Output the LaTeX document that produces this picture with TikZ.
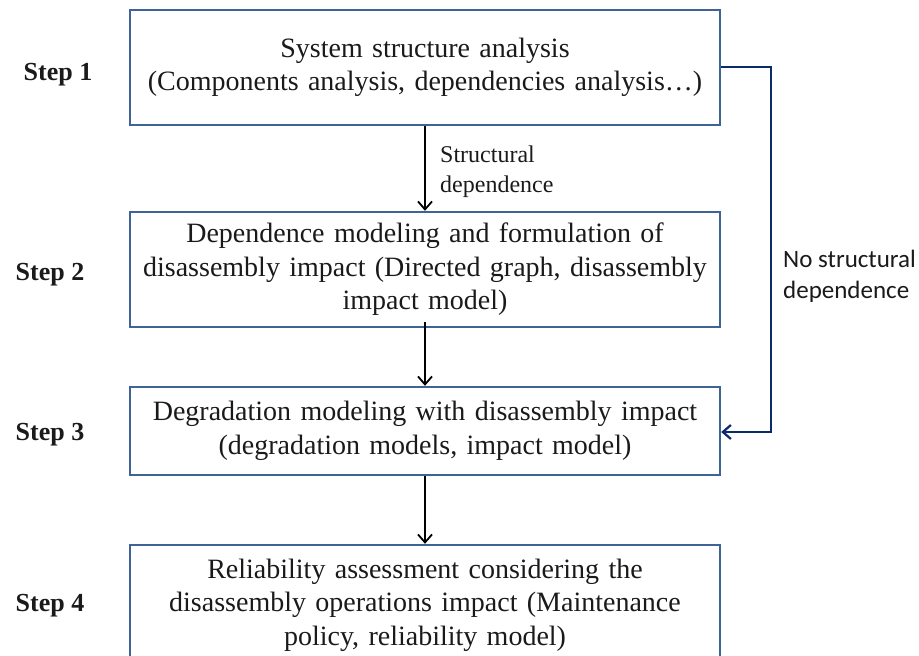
\documentclass[tikz,border=0pt]{standalone}
\usepackage{fontspec}
\setmainfont{Liberation Serif}
\newfontfamily\calib{Carlito}
\usetikzlibrary{arrows.meta}
\definecolor{boxblue}{HTML}{3F6396}
\definecolor{navy}{HTML}{0B2A6B}
\definecolor{txt}{HTML}{1A1A1A}
\newcommand{\tightsp}{\spaceskip=0.19em plus 0.02em minus 0.02em\relax}
\begin{document}
\begin{tikzpicture}[x=1pt,y=-1pt,
  stepbox/.style={draw=boxblue,line width=2.4pt,minimum width=590pt,text width=580pt,align=center,
    inner sep=0pt,text=txt,font=\fontsize{28}{33.5}\selectfont\tightsp},
  steplab/.style={text=txt,font=\bfseries\fontsize{26}{28}\selectfont,anchor=base},
  flow/.style={draw=black,line width=1.8pt,-{Straight Barb[length=8pt,width=14pt,line width=1.8pt]}},
  side/.style={draw=navy,line width=2.4pt,-{Straight Barb[length=8pt,width=14pt,line width=2.2pt]}},
  small/.style={text=txt,font=\fontsize{24}{30}\selectfont\tightsp,align=left,anchor=base west,inner sep=0pt},
  sans/.style={text=txt,font=\calib\fontsize{25}{31}\selectfont,align=left,anchor=base west,inner sep=0pt}]
\useasboundingbox (0,0) rectangle (919,656);
\node[stepbox,minimum height=115pt] (b1) at (425,67.5) {System structure analysis\\(Components analysis, dependencies analysis\ldots)};
\node[stepbox,minimum height=115pt] (b2) at (425,269.5) {Dependence modeling and formulation of\\disassembly impact (Directed graph, disassembly\\impact model)};
\node[stepbox,minimum height=88pt] (b3) at (425,431) {Degradation modeling with disassembly impact\\(degradation models, impact model)};
\node[stepbox,minimum height=120pt] (b4) at (425,605) {Reliability assessment considering the\\disassembly operations impact (Maintenance\\policy, reliability model)};
\node[steplab] (s1) at (58,80) {Step 1};
\node[steplab] (s2) at (50,280) {Step 2};
\node[steplab] (s3) at (50,440) {Step 3};
\node[steplab] (s4) at (50,611) {Step 4};
\draw[flow] (b1.south) -- (b2.north);
\draw[flow] ([yshift=6pt]b2.south) -- (b3.north);
\draw[flow] (b3.south) -- (b4.north);
\node[small] (lab1) at (440,192) {Structural\\dependence};
\coordinate (c1) at (771,67);
\coordinate (c2) at (771,432);
\draw[side] (b1.east |- c1) -- (c1) -- (c2) -- (b3.east |- c2);
\node[sans] (lab2) at (783,298) {No structural\\dependence};
\end{tikzpicture}
\end{document}
